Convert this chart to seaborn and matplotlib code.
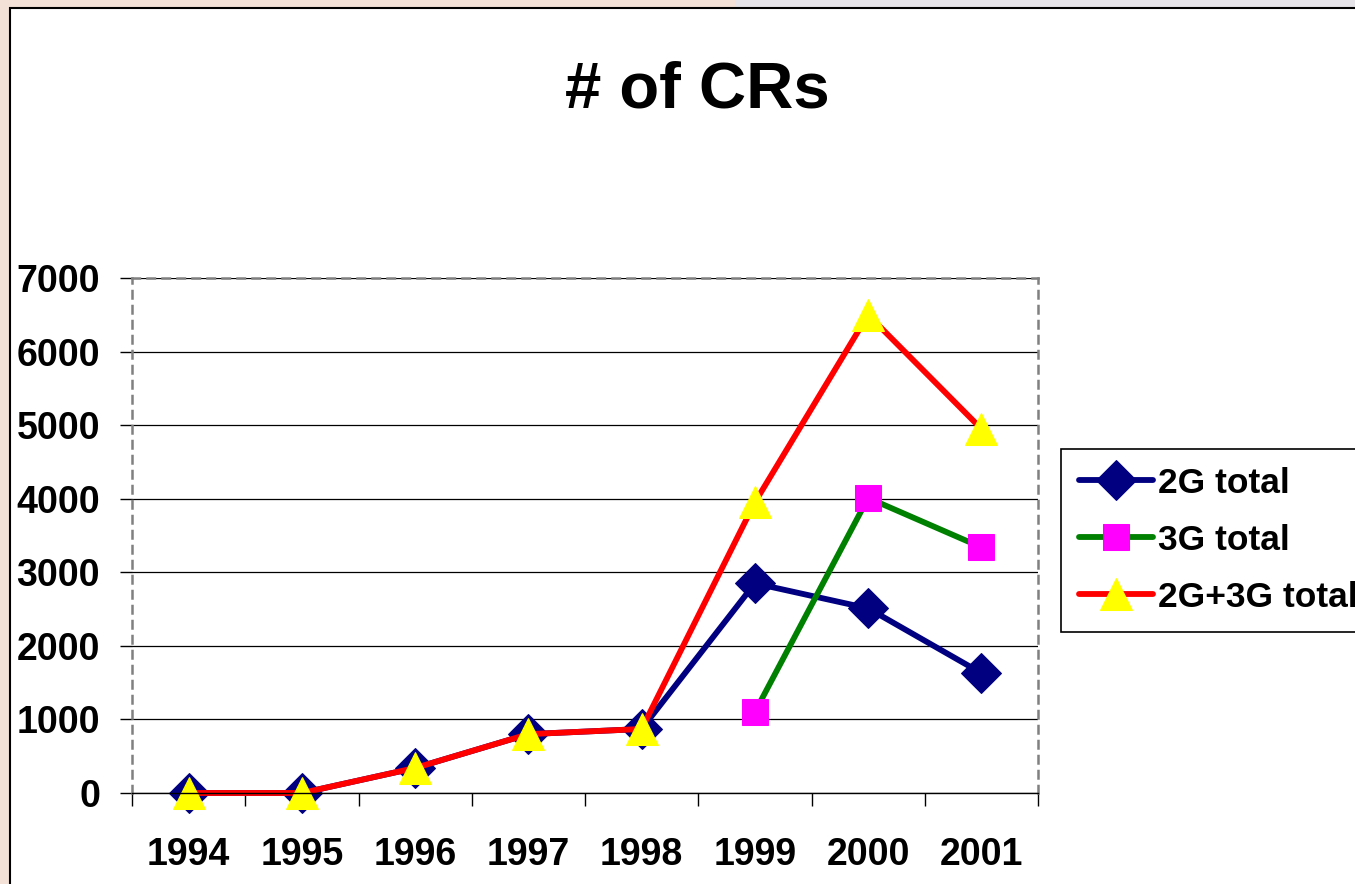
import matplotlib
matplotlib.use("Agg")
import matplotlib.pyplot as plt
from matplotlib.patches import Rectangle
from matplotlib.ticker import FixedLocator
import seaborn as sns
import pandas as pd
import numpy as np

# values
years = ["1994", "1995", "1996", "1997", "1998", "1999", "2000", "2001"]
cr_2g = [0, 0, 340, 800, 870, 2850, 2510, 1630]
cr_3g = [np.nan, np.nan, np.nan, np.nan, np.nan, 1100, 4010, 3340]
cr_total = [0, 0, 340, 800, 870, 3950, 6500, 4950]
series_names = ["2G total", "3G total", "2G+3G total"]
y_ticks = [0, 1000, 2000, 3000, 4000, 5000, 6000, 7000]

sns.set_style("white")
plt.rcParams["font.family"] = ["Liberation Sans", "DejaVu Sans"]
plt.rcParams["font.weight"] = "bold"
plt.rcParams["text.color"] = "black"
plt.rcParams["xtick.color"] = "black"
plt.rcParams["ytick.color"] = "black"

df = pd.DataFrame({
    "pos": list(range(len(years))) * 3,
    "count": cr_2g + cr_3g + cr_total,
    "series": [s for s in series_names for _ in years],
})

styles = {
    "2G total": dict(color="#000080", marker="D", markersize=20,
                     markerfacecolor="#000080", markeredgecolor="#000080"),
    "3G total": dict(color="#008000", marker="s", markersize=19,
                     markerfacecolor="#ff00ff", markeredgecolor="#ff00ff"),
    "2G+3G total": dict(color="#ff0000", marker="^", markersize=23,
                        markerfacecolor="#ffff00", markeredgecolor="#ffff00"),
}

fig = plt.figure(figsize=(13.55, 8.84), dpi=100, facecolor="#f3e1d7")
# slide background strip + white chart box
fig.patches.append(Rectangle((735 / 1355, 1 - 8 / 884), 1, 1,
                             transform=fig.transFigure, facecolor="#e6e3e8",
                             edgecolor="none", zorder=-6))
fig.patches.append(Rectangle((10 / 1355, -0.05), 1.1, 1.05 - 8 / 884,
                             transform=fig.transFigure, facecolor="white",
                             edgecolor="black", linewidth=1.5, zorder=-5))

ax = fig.add_axes([132 / 1355, 1 - 793 / 884, 906 / 1355, 515 / 884])
ax.set_facecolor("white")
ax.set_zorder(2)

for name in series_names:
    sub = df[df["series"] == name].dropna()
    sns.lineplot(data=sub, x="pos", y="count", ax=ax, label=name,
                 linewidth=4.2, clip_on=False, **styles[name])

ax.set_xlim(-0.5, len(years) - 0.5)
ax.set_ylim(0, 7000)
ax.set_yticks(y_ticks)
ax.set_yticklabels([str(v) for v in y_ticks], fontsize=27, fontweight="bold")
ax.set_xticks(range(len(years)))
ax.set_xticklabels(years, fontsize=27, fontweight="bold")
ax.xaxis.set_minor_locator(FixedLocator(np.arange(-0.5, len(years), 1.0)))
ax.tick_params(axis="x", which="major", length=0, pad=32)
ax.tick_params(axis="x", which="minor", length=9, width=1, color="black",
               direction="out", bottom=True)
ax.tick_params(axis="y", length=9, width=1, color="black", direction="out",
               left=True, pad=14)
ax.set_xlabel("")
ax.set_ylabel("")

ax.grid(axis="y", color="black", linewidth=0.9)
ax.set_axisbelow(True)
for side in ["left", "top", "right"]:
    ax.spines[side].set_color("#808080")
    ax.spines[side].set_linestyle((0, (3, 3)))
    ax.spines[side].set_linewidth(1.8)
ax.spines["bottom"].set_color("black")
ax.spines["bottom"].set_linewidth(1)

leg = ax.legend(loc="upper left", bbox_to_anchor=(1061 / 1355, 1 - 449 / 884),
                bbox_transform=fig.transFigure, frameon=True,
                fancybox=False, framealpha=1, edgecolor="black",
                borderaxespad=0, handlelength=2.1, handletextpad=0.15,
                labelspacing=0.68, borderpad=0.5,
                prop={"weight": "bold", "size": 25.5})
leg.get_frame().set_linewidth(1.2)

fig.text(697 / 1355, 1 - 90 / 884, "# of CRs", ha="center", va="center",
         fontsize=47, fontweight="bold", color="black")

fig.savefig("out.png", dpi=100, facecolor=fig.get_facecolor())
